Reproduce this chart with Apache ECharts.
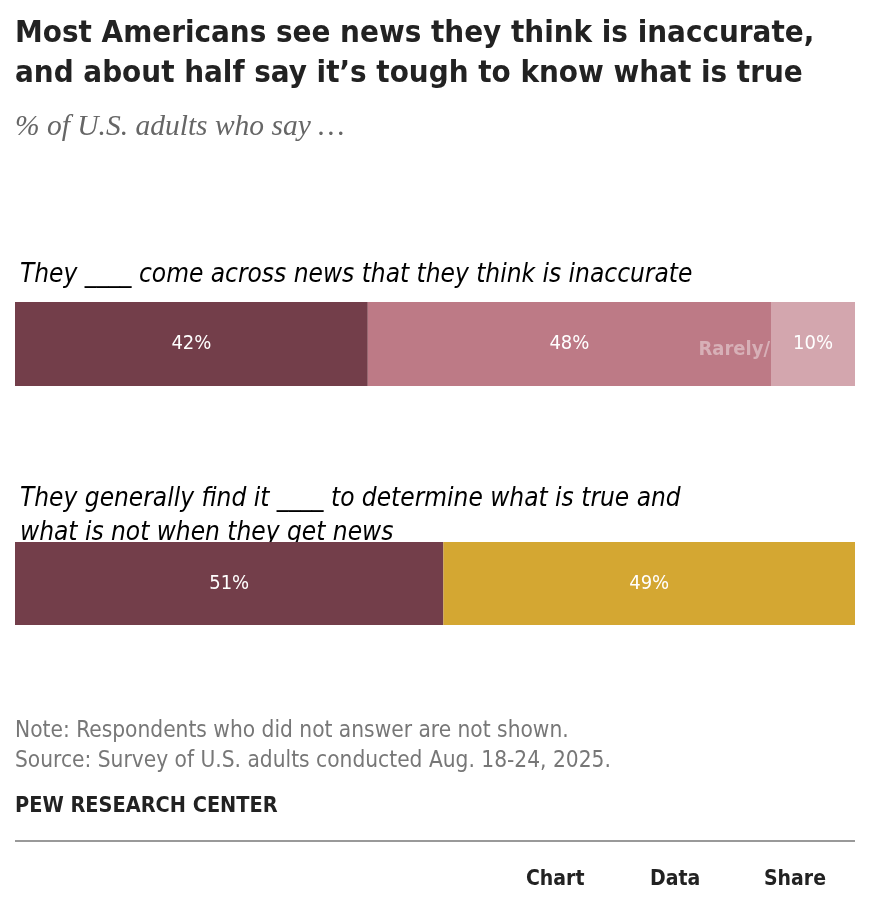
<!DOCTYPE html>
<html>
<head>
<meta charset="utf-8">
<script src="https://cdn.jsdelivr.net/npm/echarts@6/dist/echarts.min.js"></script>
<style>
  html, body { margin: 0; padding: 0; background: #fff; }
  #c { width: 876px; height: 906px; }
</style>
</head>
<body>
<div id="c"></div>
<script>
  // question 1: how often they see inaccurate news
  const q1Names = ["Often", "Sometimes", "Rarely/never"];
  const q1Values = [42, 48, 10];
  const q1Colors = ["#733e4a", "#bd7a86", "#d3a6ae"];
  // question 2: how hard it is to tell what is true
  const q2Names = ["Difficult", "Easy"];
  const q2Values = [51, 49];
  const q2Colors = ["#733e4a", "#d4a732"];

  const NARROW = '"Liberation Sans Narrow", "DejaVu Sans Condensed", sans-serif';
  const chart = echarts.init(document.getElementById("c"));

  const mkSeries = (names, vals, cols, idx) => names.map((n, i) => ({
    name: n, type: "bar", stack: "s" + idx, xAxisIndex: idx, yAxisIndex: idx,
    barWidth: "100%", data: [vals[i]], itemStyle: { color: cols[i] },
    label: { show: true, position: "inside", formatter: p => p.value + "%", color: "#fff", fontSize: 20, fontFamily: NARROW },
    animation: false,
  }));

  const txt = (x, y, text, style) => ({ type: "text", left: x, top: y, style: Object.assign({ text, fontFamily: NARROW, fill: "#000" }, style) });

  chart.setOption({
    animation: false,
    grid: [
      { left: 15, width: 840, top: 302, height: 84 },
      { left: 15, width: 840, top: 542, height: 83 },
    ],
    xAxis: [0, 1].map(i => ({ gridIndex: i, type: "value", min: 0, max: 100, show: false })),
    yAxis: [0, 1].map(i => ({ gridIndex: i, type: "category", data: [""], show: false })),
    series: [...mkSeries(q1Names, q1Values, q1Colors, 0), ...mkSeries(q2Names, q2Values, q2Colors, 1)],
    graphic: [
      txt(15, 14, "Most Americans see news they think is inaccurate,\nand about half say it\u2019s tough to know what is true",
        { fontSize: 31, fontWeight: "bold", lineHeight: 40, fill: "#222" }),
      txt(15, 112, "% of U.S. adults who say \u2026",
        { fontSize: 29.5, fontStyle: "italic", fontFamily: '"Liberation Serif", "DejaVu Serif", serif', fill: "#666" }),
      txt(20, 262, "They ____ come across news that they think is inaccurate",
        { fontSize: 26, fontStyle: "italic" }),
      { type: "text", right: 106, top: 340, z: 10, style: { text: "Rarely/", fontFamily: NARROW, fontSize: 20, fontWeight: "bold", fill: "#d7b0b7" } },
      txt(20, 482, "They generally find it ____ to determine what is true and\nwhat is not when they get news",
        { fontSize: 26, fontStyle: "italic", lineHeight: 34 }),
      txt(15, 716, "Note: Respondents who did not answer are not shown.\nSource: Survey of U.S. adults conducted Aug. 18-24, 2025.",
        { fontSize: 22.5, lineHeight: 30, fill: "#777" }),
      txt(15, 795, "PEW RESEARCH CENTER", { fontSize: 21.5, fontWeight: "bold", fill: "#222" }),
      { type: "rect", left: 15, top: 840, shape: { width: 840, height: 2 }, style: { fill: "#999" } },
      txt(526, 869, "Chart", { fontSize: 21, fontWeight: "bold", fill: "#222" }),
      txt(650, 869, "Data", { fontSize: 21, fontWeight: "bold", fill: "#222" }),
      txt(764, 869, "Share", { fontSize: 21, fontWeight: "bold", fill: "#222" }),
    ],
  });
</script>
</body>
</html>
